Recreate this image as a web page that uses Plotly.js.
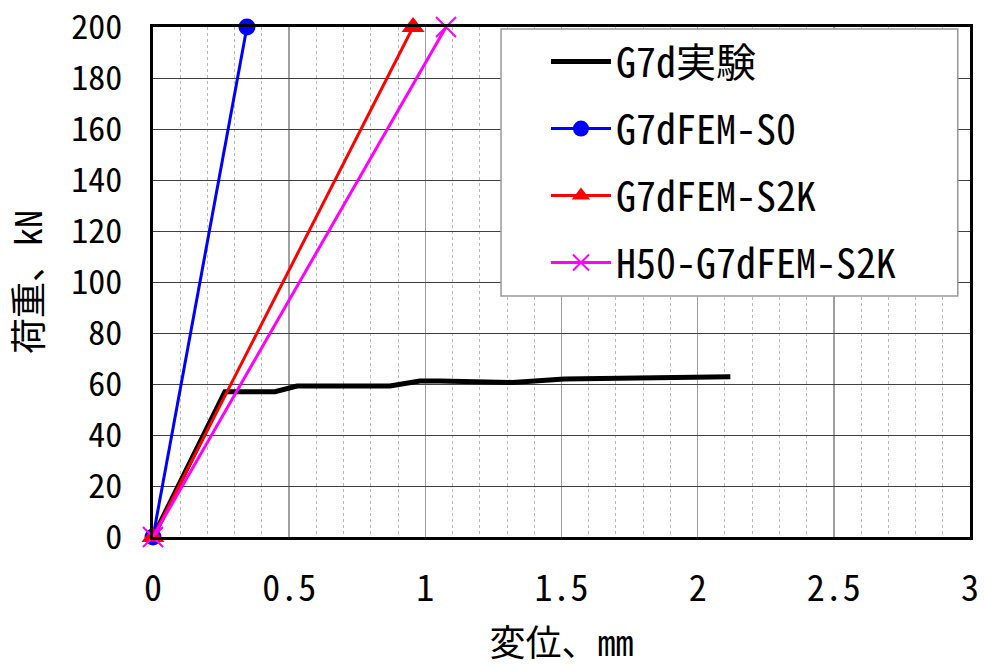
<!DOCTYPE html>
<html>
<head>
<meta charset="utf-8">
<script src="https://cdn.plot.ly/plotly-3.0.1.min.js"></script>
<style>
html,body{margin:0;padding:0;background:#fff;}
#chart{width:984px;height:666px;}
#chart text{font-feature-settings:"hwid" 1;}
</style>
</head>
<body>
<div id="chart"></div>
<script>
// Data
const seriesNames = ["G7d実験", "G7dFEM-S0", "G7dFEM-S2K", "H50-G7dFEM-S2K"];
const expX = [0, 0.1, 0.264, 0.448, 0.529, 0.87, 0.98, 1.054, 1.32, 1.51, 1.8, 2.12];
const expY = [0, 22, 57, 57, 59.2, 59.2, 61.2, 61.2, 60.6, 62, 62.3, 62.8];
const s0X = [0, 0.345];
const s0Y = [0, 200];
const s2kX = [0, 0.955];
const s2kY = [0, 200];
const h50X = [0, 1.076];
const h50Y = [0, 200];
const xTickVals = [0, 0.5, 1, 1.5, 2, 2.5, 3];
const xTickText = ["0", "0.5", "1", "1.5", "2", "2.5", "3"];
const yTickVals = [0, 20, 40, 60, 80, 100, 120, 140, 160, 180, 200];
const yTickText = ["0", "20", "40", "60", "80", "100", "120", "140", "160", "180", "200"];

const FONT = "'Noto Sans Mono CJK JP', 'Noto Sans CJK JP', sans-serif";

const traces = [
  {x: expX, y: expY, name: seriesNames[0], mode: 'lines', legendgroup: 'a',
   line: {color: '#000000', width: 5}},
  {x: s0X, y: s0Y, name: seriesNames[1], mode: 'lines+markers', legendgroup: 'b',
   line: {color: '#0000FF', width: 3}, marker: {symbol: 'circle', size: 17, color: '#0000FF'}},
  {x: s2kX, y: s2kY, name: seriesNames[2], mode: 'lines+markers', legendgroup: 'c',
   line: {color: '#FF0000', width: 3}, marker: {symbol: 'triangle-up', size: 20, color: '#FF0000'}},
  {x: h50X, y: h50Y, name: seriesNames[3], mode: 'lines+markers', legendgroup: 'd',
   line: {color: '#FF00FF', width: 3}, marker: {symbol: 'x-thin', size: 20, line: {color: '#FF00FF', width: 2}, color: '#FF00FF'}}
].map(t => Object.assign(t, {cliponaxis: false}));

const layout = {
  width: 984, height: 666,
  margin: {l: 153, r: 14, t: 27, b: 129},
  paper_bgcolor: '#ffffff', plot_bgcolor: '#ffffff',
  font: {family: FONT, size: 36, color: '#000'},
  showlegend: true,
  legend: {
    x: 0.481, y: 0.996, xanchor: 'left', yanchor: 'top',
    bgcolor: 'rgba(255,255,255,0)', borderwidth: 0,
    font: {family: FONT, size: 40, color: '#000'},
    tracegroupgap: 12, itemwidth: 60
  },
  shapes: [{
    type: 'rect', xref: 'paper', yref: 'paper', layer: 'above',
    x0: 0.426, x1: 0.985, y0: 0.4725, y1: 0.996,
    fillcolor: '#ffffff', line: {color: '#999999', width: 1.5}
  }],
  xaxis: {
    range: [0, 3], tickvals: xTickVals, ticktext: xTickText,
    showgrid: true, gridcolor: '#a0a0a0', gridwidth: 1.5,
    minor: {dtick: 0.1, tick0: 0, showgrid: true, gridcolor: '#b8b8b8', griddash: 'dot', gridwidth: 1},
    zeroline: false, showline: true, mirror: true, linecolor: '#000', linewidth: 3,
    ticks: '', ticklabelstandoff: 18, ticklabeloverflow: 'allow',
    tickfont: {family: FONT, size: 36},
    title: {text: '変位、mm', font: {family: FONT, size: 36}, standoff: 44}
  },
  yaxis: {
    range: [0, 200.0001], tickvals: yTickVals, ticktext: yTickText,
    showgrid: true, gridcolor: '#404040', gridwidth: 1,
    zeroline: false, showline: true, mirror: true, linecolor: '#000', linewidth: 3,
    ticks: '', ticklabelstandoff: 21, ticklabeloverflow: 'allow',
    tickfont: {family: FONT, size: 34},
    title: {text: '荷重、kN', font: {family: FONT, size: 36}, standoff: 30}
  }
};

Plotly.newPlot('chart', traces, layout, {displayModeBar: false, staticPlot: true});
</script>
</body>
</html>
